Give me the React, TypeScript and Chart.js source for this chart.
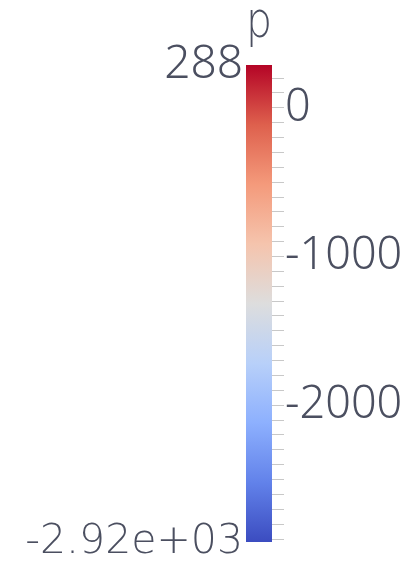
import { useEffect, useRef } from 'react';
import { Chart, registerables } from 'chart.js';

Chart.register(...registerables);

// Scalar field shown by the colour legend
const FIELD_NAME = 'p';
const P_MIN = -2920;
const P_MAX = 288;

// Range labels printed on the left of the bar
const RANGE_VALUES = [P_MAX, P_MIN];
const RANGE_LABELS = ['288', '-2.92e+03'];

// Annotated values on the right of the bar, minor ticks every TICK_STEP
const LABELED_VALUES = [0, -1000, -2000];
const TICK_STEP = 100;

// "Cool to Warm" colour map, from the lowest to the highest value
const MAP_POSITIONS = [0, 0.125, 0.25, 0.375, 0.5, 0.625, 0.75, 0.875, 1];
const MAP_COLORS = [
  'rgb(59,76,192)',
  'rgb(98,130,234)',
  'rgb(141,176,254)',
  'rgb(184,208,249)',
  'rgb(221,221,221)',
  'rgb(245,196,173)',
  'rgb(244,154,123)',
  'rgb(222,96,77)',
  'rgb(180,4,38)',
];

const TEXT_COLOR = '#4b4f60';
const TICK_COLOR = '#c8c8c8';

const BAR_LEFT = 246;
const BAR_RIGHT = 272;
const BAR_TOP = 65;
const BAR_BOTTOM = 542;
const WIDTH = 409;
const HEIGHT = 567;

// minor tick values: every TICK_STEP inside the range
function minorTickValues(): number[] {
  const out: number[] = [];
  for (let v = Math.ceil(P_MIN / TICK_STEP) * TICK_STEP; v <= P_MAX; v += TICK_STEP) out.push(v);
  return out;
}

export default function App() {
  const canvasRef = useRef<HTMLCanvasElement | null>(null);

  useEffect(() => {
    const canvas = canvasRef.current;
    if (!canvas) return;

    const chart = new Chart(canvas, {
      type: 'bar',
      data: {
        labels: [FIELD_NAME],
        datasets: [
          {
            data: [[P_MIN, P_MAX]] as any,
            xAxisID: 'x',
            yAxisID: 'y',
            borderWidth: 0,
            barPercentage: 1,
            categoryPercentage: 1,
            backgroundColor: (ctx: any) => {
              const c = ctx.chart;
              const yScale = c.scales.y;
              if (!c.chartArea || !yScale) return MAP_COLORS[4];
              const y0 = yScale.getPixelForValue(P_MIN);
              const y1 = yScale.getPixelForValue(P_MAX);
              const g = c.ctx.createLinearGradient(0, y0, 0, y1);
              MAP_POSITIONS.forEach((p, i) => g.addColorStop(p, MAP_COLORS[i]));
              return g;
            },
          },
        ],
      },
      options: {
        animation: false,
        responsive: false,
        maintainAspectRatio: false,
        layout: { padding: { top: 0, bottom: HEIGHT - BAR_BOTTOM, left: 0, right: 0 } },
        plugins: {
          legend: { display: false },
          tooltip: { enabled: false },
          title: { display: false },
        },
        scales: {
          x: {
            position: 'top',
            offset: true,
            ticks: { display: false },
            grid: { display: false, drawTicks: false },
            border: { display: false },
            title: {
              display: true,
              text: FIELD_NAME,
              color: TEXT_COLOR,
              font: { family: "'DejaVu Sans', sans-serif", size: 50, weight: '200' as any, lineHeight: 0.84 },
              padding: { top: 3, bottom: 0 },
            },
            afterFit: (s: any) => {
              s.height = BAR_TOP;
            },
          },
          yl: {
            type: 'linear',
            position: 'left',
            min: P_MIN,
            max: P_MAX,
            afterBuildTicks: (s: any) => {
              s.ticks = RANGE_VALUES.map((v) => ({ value: v }));
            },
            ticks: {
              autoSkip: false,
              maxRotation: 0,
              padding: 3,
              color: TEXT_COLOR,
              font: (ctx: any) =>
                ctx.tick && ctx.tick.value === P_MIN
                  ? { family: "'DejaVu Sans', sans-serif", size: 41, weight: '200' as any }
                  : { family: "'Noto Sans', 'Liberation Sans', sans-serif", size: 46, weight: '300' as any },
              callback: (v: any) => {
                const i = RANGE_VALUES.indexOf(Number(v));
                return i >= 0 ? RANGE_LABELS[i] : '';
              },
            },
            grid: { display: false, drawTicks: false },
            border: { display: false },
            afterFit: (s: any) => {
              s.width = BAR_LEFT;
              s.paddingTop = 0;
              s.paddingBottom = 0;
            },
          },
          y: {
            type: 'linear',
            position: 'right',
            min: P_MIN,
            max: P_MAX,
            afterBuildTicks: (s: any) => {
              s.ticks = minorTickValues().map((v) => ({ value: v }));
            },
            ticks: {
              autoSkip: false,
              maxRotation: 0,
              padding: 1,
              color: TEXT_COLOR,
              font: { family: "'Noto Sans', sans-serif", size: 45, weight: '300' as any },
              callback: (v: any) => (LABELED_VALUES.includes(Number(v)) ? String(v) : ''),
            },
            grid: {
              display: true,
              drawOnChartArea: false,
              drawTicks: true,
              tickLength: 12,
              color: TICK_COLOR,
              lineWidth: 1,
            },
            border: { display: false },
            afterFit: (s: any) => {
              s.width = WIDTH - BAR_RIGHT;
              s.paddingTop = 0;
              s.paddingBottom = 0;
            },
          },
        },
      } as any,
    });

    return () => chart.destroy();
  }, []);

  return (
    <div style={{ position: 'absolute', left: 0, top: 0, width: WIDTH, height: HEIGHT, background: '#ffffff' }}>
      <canvas ref={canvasRef} width={WIDTH} height={HEIGHT} style={{ display: 'block', width: WIDTH, height: HEIGHT }} />
    </div>
  );
}
